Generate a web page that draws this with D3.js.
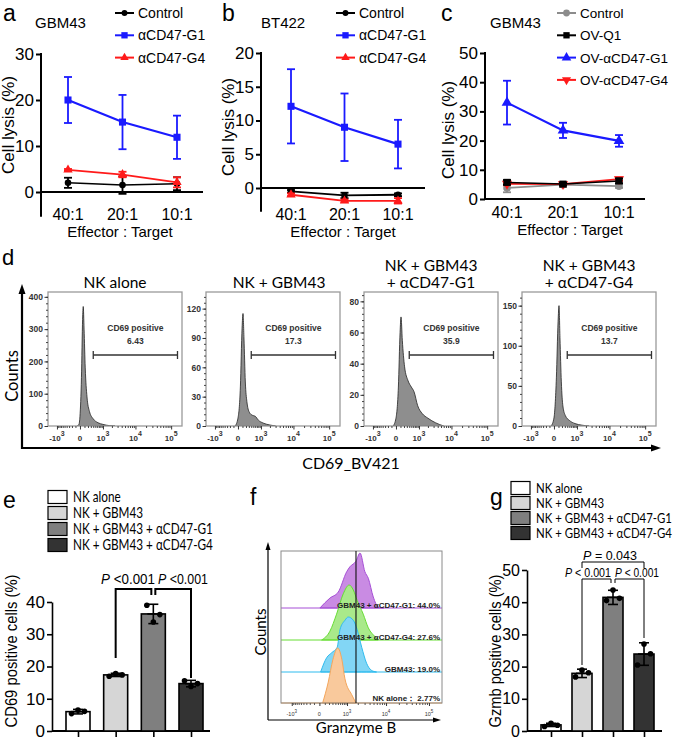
<!DOCTYPE html>
<html>
<head>
<meta charset="UTF-8">
<script src="https://d3js.org/d3.v7.min.js"></script>
<style>
  body { margin: 0; background: #fff; }
  svg { display: block; }
</style>
</head>
<body>
<svg id="fig" width="673" height="738"></svg>
<script>
// ---------- data ----------
const ratios = ["40:1", "20:1", "10:1"];

// panel a (GBM43)
const aControl = [2.0, 1.5, 1.8], aControlErr = [1.1, 1.9, 1.4];
const aG1 = [20.0, 15.2, 11.9], aG1Err = [5.0, 5.9, 4.7];
const aG4 = [4.8, 3.8, 2.1], aG4Err = [0.2, 0.6, 1.1];

// panel b (BT422)
const bControl = [-0.5, -1.1, -1.0], bControlErr = [0.2, 0.4, 0.2];
const bG1 = [12.1, 9.0, 6.5], bG1Err = [5.5, 5.0, 3.6];
const bG4 = [-1.0, -1.9, -1.9], bG4Err = [0.2, 0.2, 0.4];

// panel c (GBM43, oncolytic virus)
const cControl = [3.8, 4.9, 4.4], cControlErr = [1.5, 0.8, 0.6];
const cQ1 = [5.7, 5.1, 6.2], cQ1Err = [0.8, 0.5, 0.8];
const cG1 = [33.0, 23.5, 19.9], cG1Err = [7.5, 2.6, 2.0];
const cG4 = [5.2, 5.1, 6.8], cG4Err = [0.5, 0.4, 0.6];

// panel d histograms: [CD69_BV421 value, count]
const dTitles = [["NK alone"], ["NK + GBM43"], ["NK + GBM43", "+ \u03b1CD47-G1"], ["NK + GBM43", "+ \u03b1CD47-G4"]];
const dPositive = ["6.43", "17.3", "35.9", "13.7"];
const dNK = [[-60,0],[-20,5],[0,30],[30,150],[55,330],[70,370],[90,300],[120,180],[170,90],[250,45],[400,22],[650,10],[1000,5],[1700,1],[2500,0]];
const dGBM43 = [[-60,0],[0,8],[50,40],[90,100],[114,115],[140,90],[180,45],[230,25],[320,14],[450,11],[600,10],[800,6],[1200,3],[2000,1],[3000,0]];
const dG1 = [[-60,0],[0,5],[50,25],[90,60],[114,70],[150,55],[220,38],[350,29],[500,25],[650,22],[900,13],[1300,8],[2000,5],[3500,2],[6000,0]];
const dG4 = [[-60,0],[0,10],[50,60],[90,130],[114,150],[140,110],[180,55],[230,25],[320,13],[500,7],[850,3],[1500,1],[2500,0]];
const dYMax = [415, 137, 86, 167];
const dYTicks = [[0,100,200,300,400], [0,30,60,90,120], [0,20,40,60,80], [0,50,100,150]];
const dGate = [400, 150000];

// panel e / g bars
const groups = ["NK alone", "NK + GBM43", "NK + GBM43 + \u03b1CD47-G1", "NK + GBM43 + \u03b1CD47-G4"];
const groupFill = ["#ffffff", "#d6d6d6", "#7f7f7f", "#333333"];
const eMean = [6.0, 17.4, 36.3, 14.7], eErr = [0.7, 0.5, 3.0, 1.0];
const eDots = [[5.4, 6.5, 6.1], [17.0, 17.8, 17.4], [39.0, 33.8, 36.1], [15.6, 13.8, 14.7]];
const gMean = [1.9, 17.9, 41.5, 23.9], gErr = [0.5, 1.3, 2.2, 3.5];
const gDots = [[1.4, 2.4, 1.8], [16.8, 18.9, 18.1], [40.5, 43.8, 41.2], [20.5, 27.0, 24.0]];

// panel f granzyme B histograms: [value, % of mode]
const fG1 = [[8,0],[224,18],[516,29],[977,66],[1216,75],[1790,85],[2290,100],[3050,66],[3720,54],[4930,20],[6500,2],[8760,0]];
const fG4 = [[38,0],[224,16],[446,47],[763,84],[1157,100],[1510,91],[1925,72],[2770,47],[3720,22],[5440,6],[6500,0]];
const fGBM43 = [[20,0],[141,26],[275,35],[471,45],[594,77],[863,94],[1087,100],[1510,94],[1925,77],[2530,45],[3360,16],[4460,3],[5910,0]];
const fNK = [[56,0],[180,38],[314,79],[492,100],[689,79],[863,44],[1370,15],[1790,0]];
const fLabels = ["GBM43 + \u03b1CD47-G1: 44.0%", "GBM43 + \u03b1CD47-G4: 27.6%", "GBM43: 19.0%", "NK alone\uff1a 2.77%"];
const fGate = 1790;

// ---------- drawing ----------
const ARIAL = "'Liberation Sans', Arial, sans-serif";
const SANS = "Lato, 'Noto Sans', sans-serif";
const svg = d3.select("#fig");
svg.append("rect").attr("width", 673).attr("height", 738).attr("fill", "#fff");

function txt(g, x, y, s, size, opts) {
  opts = opts || {};
  return g.append("text").attr("x", x).attr("y", y).text(s)
    .attr("font-family", opts.family || ARIAL).attr("font-size", size)
    .attr("text-anchor", opts.anchor || "start")
    .attr("font-weight", opts.weight || "normal")
    .attr("fill", opts.fill || "#000");
}

// narrow a text horizontally (keeps its height), k = horizontal factor
function squeeze(t, k) {
  const x = +t.attr("x"), y = +t.attr("y");
  t.attr("x", 0).attr("y", 0).attr("transform", `translate(${x},${y}) scale(${k},1)`);
  return t;
}
function squeezeTo(t, w) {
  const len = t.node().getComputedTextLength();
  return squeeze(t, Math.min(1, w / len));
}

function markerPath(type, size) {
  const sym = { circle: d3.symbolCircle, square: d3.symbolSquare, tri: d3.symbolTriangle, triDown: d3.symbolTriangle }[type];
  return d3.symbol().type(sym).size(size)();
}

function linePanel(p) {
  const g = svg.append("g");
  const x = d3.scalePoint().domain(ratios).range(p.xr);
  const y = d3.scaleLinear().domain(p.yd).range(p.yr);

  const ya = g.append("g").attr("transform", `translate(${p.ax},0)`)
    .call(d3.axisLeft(y).tickValues(p.ticks).tickSize(5).tickPadding(2).tickSizeOuter(0));
  ya.select(".domain").remove();
  ya.attr("font-size", 17).attr("font-family", ARIAL);
  ya.selectAll("line").attr("stroke-width", 2);
  g.append("line").attr("x1", p.ax).attr("x2", p.ax).attr("y1", y(p.yd[1]) - 1).attr("y2", y(p.yLow))
    .attr("stroke", "#000").attr("stroke-width", 2);
  g.append("line").attr("x1", p.ax).attr("x2", p.xEnd).attr("y1", y(0)).attr("y2", y(0))
    .attr("stroke", "#000").attr("stroke-width", 2);

  ratios.forEach(r => txt(g, x(r), p.labY, r, 16, { anchor: "middle" }));
  txt(g, p.effX, p.labY + 17, "Effector : Target", 15, { anchor: "middle" });
  txt(g, 0, 0, "Cell lysis (%)", 17, { anchor: "middle" })
    .attr("transform", `translate(${p.titleX},${p.titleY}) rotate(-90)`);
  txt(g, p.letterX, 21, p.letter, 23);
  txt(g, p.nameX, 28, p.name, 15);

  p.series.forEach(s => {
    const sg = g.append("g");
    const pts = s.values.map((v, i) => [x(ratios[i]), y(v)]);
    sg.append("path").attr("d", d3.line()(pts)).attr("fill", "none")
      .attr("stroke", s.color).attr("stroke-width", s.lw);
    s.values.forEach((v, i) => {
      const cx = x(ratios[i]);
      const e = s.errs[i];
      sg.append("line").attr("x1", cx).attr("x2", cx).attr("y1", y(v - e)).attr("y2", y(v + e))
        .attr("stroke", s.color).attr("stroke-width", 1.8);
      [v - e, v + e].forEach(w => sg.append("line").attr("x1", cx - 4).attr("x2", cx + 4)
        .attr("y1", y(w)).attr("y2", y(w)).attr("stroke", s.color).attr("stroke-width", 1.8));
      sg.append("path").attr("d", markerPath(s.marker, s.msize))
        .attr("transform", `translate(${cx},${y(v)})` + (s.marker === "triDown" ? " rotate(180)" : ""))
        .attr("fill", s.color);
    });
  });

  // legend
  p.series.slice().sort((a, b) => a.order - b.order).forEach((s, i) => {
    const ly = 13 + i * 22.3;
    g.append("line").attr("x1", p.legX).attr("x2", p.legX + 19).attr("y1", ly).attr("y2", ly)
      .attr("stroke", s.color).attr("stroke-width", 2);
    g.append("path").attr("d", markerPath(s.marker, s.msize * 0.8))
      .attr("transform", `translate(${p.legX + 9.5},${ly})` + (s.marker === "triDown" ? " rotate(180)" : ""))
      .attr("fill", s.color);
    txt(g, p.legX + 23, ly + 5, s.name, p.legSize || 14);
  });
}

const BLUE = "#1a1aff", RED = "#ff1a1a";

linePanel({
  letter: "a", letterX: 3, name: "GBM43", nameX: 35,
  ax: 41, xr: [68, 177], xEnd: 203, yd: [0, 30], yr: [192, 54], yLow: -5.4, ticks: [0, 10, 20, 30],
  labY: 220, effX: 120, titleX: 14, titleY: 125, legX: 115,
  series: [
    { name: "Control", values: aControl, errs: aControlErr, color: "#000", marker: "circle", msize: 34, lw: 1.5, order: 0 },
    { name: "\u03b1CD47-G4", values: aG4, errs: aG4Err, color: RED, marker: "tri", msize: 38, lw: 1.8, order: 2 },
    { name: "\u03b1CD47-G1", values: aG1, errs: aG1Err, color: BLUE, marker: "square", msize: 50, lw: 2.2, order: 1 }
  ]
});

linePanel({
  letter: "b", letterX: 222, name: "BT422", nameX: 261,
  ax: 261, xr: [291, 398], xEnd: 425, yd: [0, 20], yr: [188, 53], yLow: -3.5, ticks: [0, 5, 10, 15, 20],
  labY: 220, effX: 343, titleX: 234, titleY: 127, legX: 336,
  series: [
    { name: "Control", values: bControl, errs: bControlErr, color: "#000", marker: "circle", msize: 34, lw: 1.8, order: 0 },
    { name: "\u03b1CD47-G4", values: bG4, errs: bG4Err, color: RED, marker: "tri", msize: 38, lw: 1.8, order: 2 },
    { name: "\u03b1CD47-G1", values: bG1, errs: bG1Err, color: BLUE, marker: "square", msize: 50, lw: 2.2, order: 1 }
  ]
});

linePanel({
  letter: "c", letterX: 441, name: "GBM43", nameX: 490,
  ax: 485, xr: [507, 619], xEnd: 645, yd: [0, 50], yr: [199, 53], yLow: 0, ticks: [0, 10, 20, 30, 40, 50],
  labY: 218, effX: 570, titleX: 454, titleY: 130, legX: 557, legSize: 13.5,
  series: [
    { name: "Control", values: cControl, errs: cControlErr, color: "#8c8c8c", marker: "circle", msize: 45, lw: 1.8, order: 0 },
    { name: "OV-\u03b1CD47-G4", values: cG4, errs: cG4Err, color: RED, marker: "triDown", msize: 45, lw: 1.8, order: 3 },
    { name: "OV-Q1", values: cQ1, errs: cQ1Err, color: "#000", marker: "square", msize: 50, lw: 1.5, order: 1 },
    { name: "OV-\u03b1CD47-G1", values: cG1, errs: cG1Err, color: BLUE, marker: "tri", msize: 50, lw: 2.2, order: 2 }
  ]
});

// ---------- panel d ----------
(function () {
  const g = svg.append("g");
  txt(g, 2, 265, "d", 22);
  const hists = [dNK, dGBM43, dG1, dG4];
  const boxX = [48, 206, 364, 522];
  const bw = 134, top = 292, bot = 426;
  const defs = svg.append("defs");
  hists.forEach((h, i) => {
    const x0 = boxX[i];
    const x = d3.scaleSymlog().constant(300).domain([-2000, 200000]).range([x0, x0 + bw]);
    const y = d3.scaleLinear().domain([0, dYMax[i]]).range([bot, top]);
    defs.append("clipPath").attr("id", "clipd" + i).append("rect")
      .attr("x", x0).attr("y", top).attr("width", bw).attr("height", bot - top);
    g.append("path").datum(h).attr("clip-path", `url(#clipd${i})`)
      .attr("d", d3.area().x(d => x(d[0])).y0(bot).y1(d => y(d[1])).curve(d3.curveMonotoneX))
      .attr("fill", "#8e8e8e").attr("stroke", "#222").attr("stroke-width", 0.8);
    g.append("rect").attr("x", x0).attr("y", top).attr("width", bw).attr("height", bot - top)
      .attr("fill", "none").attr("stroke", "#9a9a9a").attr("stroke-width", 1.3);

    // y axis
    const t = dYTicks[i], step = t[1] - t[0];
    const minor = d3.range(0, dYMax[i], step / 5);
    g.append("g").attr("transform", `translate(${x0},0)`)
      .call(d3.axisLeft(y).tickValues(minor).tickSize(2).tickFormat("").tickSizeOuter(0))
      .call(a => a.select(".domain").remove()).attr("color", "#444");
    const ya = g.append("g").attr("transform", `translate(${x0},0)`)
      .call(d3.axisLeft(y).tickValues(t).tickSize(3.5).tickPadding(1.5).tickSizeOuter(0));
    ya.select(".domain").remove();
    ya.attr("font-size", 8.5).attr("font-family", ARIAL).attr("font-weight", "bold").attr("color", "#333");

    // x axis
    const major = [-1000, 0, 1000, 10000, 100000];
    const minorX = [-900,-800,-700,-600,-500,-400,-300,-200,-100,100,200,300,400,500,600,700,800,900,
      2000,3000,4000,5000,6000,7000,8000,9000,20000,30000,40000,50000,60000,70000,80000,90000];
    g.append("g").attr("transform", `translate(0,${bot})`)
      .call(d3.axisBottom(x).tickValues(minorX).tickSize(2).tickFormat("").tickSizeOuter(0))
      .call(a => a.select(".domain").remove()).attr("color", "#444");
    g.append("g").attr("transform", `translate(0,${bot})`)
      .call(d3.axisBottom(x).tickValues(major).tickSize(3.5).tickFormat("").tickSizeOuter(0))
      .call(a => a.select(".domain").remove()).attr("color", "#333");
    major.forEach(v => {
      const lab = txt(g, x(v), 441, "", 8, { anchor: "middle", weight: "bold", fill: "#333" });
      if (v === 0) lab.text("0");
      else {
        lab.append("tspan").text(v < 0 ? "-10" : "10");
        lab.append("tspan").attr("dy", -5).attr("font-size", 7).text(String(Math.round(Math.log10(Math.abs(v)))));
      }
    });

    // gate
    const gx1 = x(dGate[0]), gx2 = x(dGate[1]);
    g.append("line").attr("x1", gx1).attr("x2", gx2).attr("y1", 355).attr("y2", 355).attr("stroke", "#333").attr("stroke-width", 1.3);
    [gx1, gx2].forEach(gx => g.append("line").attr("x1", gx).attr("x2", gx).attr("y1", 351).attr("y2", 359)
      .attr("stroke", "#333").attr("stroke-width", 1.3));
    txt(g, (gx1 + gx2) / 2, 331, "CD69 positive", 8.5, { anchor: "middle", weight: "bold", fill: "#333" });
    txt(g, (gx1 + gx2) / 2, 344, dPositive[i], 8.5, { anchor: "middle", weight: "bold", fill: "#333" });

    // title
    const lines = dTitles[i];
    lines.forEach((s, k) => txt(g, x0 + bw / 2 + (i === 1 ? 6 : 0), 288 - (lines.length - 1 - k) * 17, s, 15.5,
      { anchor: "middle", family: SANS }));
  });

  // outer frame axes
  g.append("line").attr("x1", 22).attr("x2", 22).attr("y1", 449).attr("y2", 292).attr("stroke", "#000").attr("stroke-width", 2.2);
  g.append("path").attr("d", "M22,284 L18.5,294 L25.5,294 Z").attr("fill", "#000");
  g.append("line").attr("x1", 21).attr("x2", 652).attr("y1", 448).attr("y2", 448).attr("stroke", "#000").attr("stroke-width", 2.2);
  g.append("path").attr("d", "M661,448 L651,444.5 L651,451.5 Z").attr("fill", "#000");
  txt(g, 0, 0, "Counts", 16.5, { anchor: "middle", family: SANS }).attr("transform", "translate(18,376) rotate(-90)");
  txt(g, 351, 469, "CD69_BV421", 16, { anchor: "middle", family: SANS });
})();

// ---------- bar panels e & g ----------
function barPanel(p) {
  const g = svg.append("g");
  const x = d3.scalePoint().domain(groups).range(p.xr);
  const y = d3.scaleLinear().domain([0, p.max]).range([731, p.yTop]);

  txt(g, p.letterX, p.letterY, p.letter, 23);
  const legTexts = groups.map((name, i) => {
    const ly = p.legY + i * p.legStep;
    g.append("rect").attr("x", p.legX).attr("y", ly - 6.5).attr("width", 19).attr("height", 13)
      .attr("fill", groupFill[i]).attr("stroke", "#000").attr("stroke-width", 1.2);
    return txt(g, p.legX + 25, ly + 4.6, name, p.legFont, { family: SANS });
  });
  const k = Math.min(1, p.legW / legTexts[3].node().getComputedTextLength());
  legTexts.forEach(t => squeeze(t, k));

  const ya = g.append("g").attr("transform", `translate(${p.ax},0)`)
    .call(d3.axisLeft(y).tickValues(p.ticks).tickSize(5).tickPadding(2).tickSizeOuter(0));
  ya.attr("font-size", p.tickSize).attr("font-family", ARIAL);
  ya.selectAll("line,path").attr("stroke-width", 1.6);
  const xa = g.append("g").attr("transform", "translate(0,731)")
    .call(d3.axisBottom(x).tickSize(6).tickFormat("").tickSizeOuter(0));
  xa.select(".domain").remove();
  xa.selectAll("line").attr("stroke-width", 1.6);
  g.append("line").attr("x1", p.ax).attr("x2", p.xEnd).attr("y1", 731).attr("y2", 731)
    .attr("stroke", "#000").attr("stroke-width", 1.8);

  txt(g, 0, 0, p.title, 17, { anchor: "middle" }).attr("textLength", 153).attr("lengthAdjust", "spacingAndGlyphs")
    .attr("transform", `translate(${p.titleX},651) rotate(-90)`);

  groups.forEach((name, i) => {
    const cx = x(name), v = p.mean[i], e = p.err[i];
    g.append("rect").attr("x", cx - p.bw / 2).attr("y", y(v)).attr("width", p.bw).attr("height", 731 - y(v))
      .attr("fill", groupFill[i]).attr("stroke", "#000").attr("stroke-width", 1.6);
    g.append("line").attr("x1", cx).attr("x2", cx).attr("y1", y(v - e)).attr("y2", y(v + e))
      .attr("stroke", "#000").attr("stroke-width", 1.6);
    [v - e, v + e].forEach(w => g.append("line").attr("x1", cx - 5).attr("x2", cx + 5).attr("y1", y(w)).attr("y2", y(w))
      .attr("stroke", "#000").attr("stroke-width", 1.6));
    g.append("line").attr("x1", cx - 6).attr("x2", cx + 6).attr("y1", y(v)).attr("y2", y(v))
      .attr("stroke", "#000").attr("stroke-width", 1.6);
    p.dots[i].forEach((d, k) => g.append("circle").attr("cx", cx + (k - 1) * 6.5).attr("cy", y(d)).attr("r", 2.8).attr("fill", "#000"));
  });
  return { g, x, y };
}

function pLabel(g, cx, by, rest, size) {
  const t = txt(g, cx, by, "", size, { anchor: "middle" });
  t.append("tspan").attr("font-style", "italic").text("P");
  t.append("tspan").text(rest);
  return t;
}

(function () {
  const r = barPanel({
    letter: "e", letterX: 3, letterY: 508, legX: 48, legY: 497, legStep: 16, legW: 140, legFont: 14.5,
    ax: 52, xEnd: 210, xr: [78, 191], bw: 24, max: 40, yTop: 602, ticks: [0, 10, 20, 30, 40], tickSize: 17,
    title: "CD69 positive cells (%)", titleX: 17, mean: eMean, err: eErr, dots: eDots
  });
  const g = r.g, x = r.x;
  const x1 = x(groups[1]), x2 = x(groups[2]), x3 = x(groups[3]);
  const path = `M${x1},658 V589 H${x2 - 2} V595 M${x2 + 2},595 V589 H${x3} V678`;
  g.append("path").attr("d", path).attr("fill", "none").attr("stroke", "#000").attr("stroke-width", 2);
  squeezeTo(pLabel(g, 128, 584, " <0.001", 14), 54);
  squeezeTo(pLabel(g, 183, 584, " <0.001", 14), 50);
})();

(function () {
  const r = barPanel({
    letter: "g", letterX: 490, letterY: 505, legX: 511, legY: 488, legStep: 15, legW: 136, legFont: 13.5,
    ax: 527, xEnd: 662, xr: [551, 644], bw: 20, max: 50, yTop: 570, ticks: [0, 10, 20, 30, 40, 50], tickSize: 16,
    title: "Gzmb positive cells (%)", titleX: 501, mean: gMean, err: gErr, dots: gDots
  });
  const g = r.g, x = r.x;
  const x1 = x(groups[1]), x2 = x(groups[2]), x3 = x(groups[3]);
  const addPath = d => g.append("path").attr("d", d).attr("fill", "none").attr("stroke", "#000").attr("stroke-width", 1);
  addPath(`M${x1},568 V562 H${x3} V568`);
  addPath(`M${x1},665 V579 H${x2 - 2} V583`);
  addPath(`M${x2 + 2},583 V579 H${x3} V638`);
  squeezeTo(pLabel(g, 610, 560, " = 0.043", 12.5), 54);
  squeezeTo(pLabel(g, 588, 577, " < 0.001", 12), 46);
  squeezeTo(pLabel(g, 637, 577, " < 0.001", 12), 44);
})();

// ---------- panel f ----------
(function () {
  const g = svg.append("g");
  txt(g, 250, 505, "f", 23);
  const bx0 = 281, bx1 = 442, by0 = 551, by1 = 703;
  const x = d3.scaleSymlog().constant(300).domain([-2000, 200000]).range([bx0, bx1]);
  const h = d3.scaleLinear().domain([0, 100]).range([0, 55]);
  const layers = [
    { data: fG1, base: 608, fill: "#c98be3", stroke: "#a64fd6" },
    { data: fG4, base: 640, fill: "#a9e98a", stroke: "#66dd33" },
    { data: fGBM43, base: 672, fill: "#82d6f5", stroke: "#2fbbee" },
    { data: fNK, base: 703, fill: "#f9c99c", stroke: "#f4a65c" }
  ];
  layers.forEach(l => {
    g.append("path").datum(l.data)
      .attr("d", d3.area().x(d => x(d[0])).y0(l.base).y1(d => l.base - h(d[1])).curve(d3.curveMonotoneX))
      .attr("fill", l.fill).attr("stroke", l.stroke).attr("stroke-width", 1);
    g.append("line").attr("x1", bx0).attr("x2", bx1).attr("y1", l.base).attr("y2", l.base)
      .attr("stroke", l.stroke).attr("stroke-width", 1);
  });
  g.append("rect").attr("x", bx0).attr("y", by0).attr("width", bx1 - bx0).attr("height", by1 - by0)
    .attr("fill", "none").attr("stroke", "#8a8a8a").attr("stroke-width", 1);
  g.append("line").attr("x1", x(fGate)).attr("x2", x(fGate)).attr("y1", by0).attr("y2", by1)
    .attr("stroke", "#111").attr("stroke-width", 1.1);
  layers.forEach((l, i) => txt(g, 440, l.base - 1 + (i === 3 ? -1 : 1), fLabels[i], 8, { anchor: "end", weight: "bold", fill: "#222" }));

  const major = [-1000, 0, 1000, 10000, 100000];
  const minorX = [-900,-800,-700,-600,-500,-400,-300,-200,-100,100,200,300,400,500,600,700,800,900,
    2000,3000,4000,5000,6000,7000,8000,9000,20000,30000,40000,50000,60000,70000,80000,90000];
  g.append("g").attr("transform", `translate(0,${by1})`)
    .call(d3.axisBottom(x).tickValues(minorX).tickSize(2).tickFormat("").tickSizeOuter(0))
    .call(a => a.select(".domain").remove()).attr("color", "#555");
  g.append("g").attr("transform", `translate(0,${by1})`)
    .call(d3.axisBottom(x).tickValues(major).tickSize(3).tickFormat("").tickSizeOuter(0))
    .call(a => a.select(".domain").remove()).attr("color", "#333");
  major.forEach(v => {
    const lab = txt(g, x(v), 716, "", 5.5, { anchor: "middle", fill: "#333" });
    if (v === 0) lab.text("0");
    else {
      lab.append("tspan").text(v < 0 ? "-10" : "10");
      lab.append("tspan").attr("dy", -3).attr("font-size", 4.5).text(String(Math.round(Math.log10(Math.abs(v)))));
    }
  });

  g.append("line").attr("x1", 268).attr("x2", 268).attr("y1", 720).attr("y2", 549).attr("stroke", "#000").attr("stroke-width", 1.2);
  g.append("path").attr("d", "M268,542 L265.5,550 L270.5,550 Z").attr("fill", "#000");
  g.append("line").attr("x1", 268).attr("x2", 434).attr("y1", 720).attr("y2", 720).attr("stroke", "#000").attr("stroke-width", 1.2);
  g.append("path").attr("d", "M441,720 L433,717.5 L433,722.5 Z").attr("fill", "#000");
  txt(g, 0, 0, "Counts", 15, { anchor: "middle", family: SANS }).attr("transform", "translate(266,632) rotate(-90)");
  txt(g, 356, 733, "Granzyme B", 15, { anchor: "middle", family: SANS });
})();
</script>
</body>
</html>
